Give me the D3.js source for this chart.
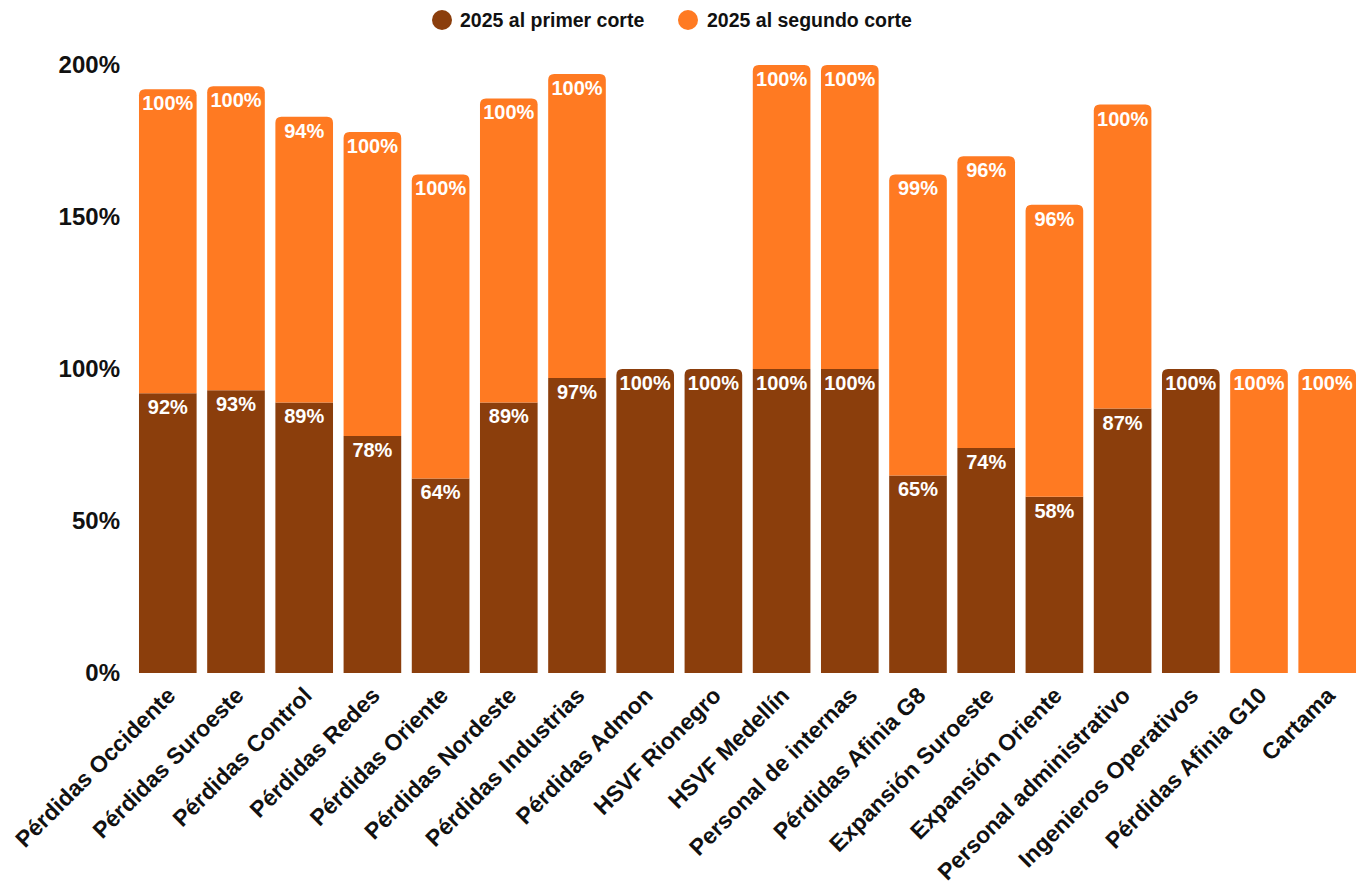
<!DOCTYPE html>
<html>
<head>
<meta charset="utf-8">
<script src="https://cdn.jsdelivr.net/npm/d3@7"></script>
<style>
  html, body { margin: 0; padding: 0; background: #ffffff; }
  svg { display: block; font-family: "Liberation Sans", Arial, Helvetica, sans-serif; }
</style>
</head>
<body>
<svg id="chart" width="1360" height="892"></svg>
<script>
// Categories and the two cut-off percentages for each one
const categories = [
  "Pérdidas Occidente", "Pérdidas Suroeste", "Pérdidas Control", "Pérdidas Redes",
  "Pérdidas Oriente", "Pérdidas Nordeste", "Pérdidas Industrias", "Pérdidas Admon",
  "HSVF Rionegro", "HSVF Medellín", "Personal de internas", "Pérdidas Afinia G8",
  "Expansión Suroeste", "Expansión Oriente", "Personal administrativo",
  "Ingenieros Operativos", "Pérdidas Afinia G10", "Cartama"
];
const primerCorte  = [92, 93, 89, 78, 64, 89, 97, 100, 100, 100, 100, 65, 74, 58, 87, 100, 0, 0];
const segundoCorte = [100, 100, 94, 100, 100, 100, 100, 0, 0, 100, 100, 99, 96, 96, 100, 0, 100, 100];
const seriesNames  = ["2025 al primer corte", "2025 al segundo corte"];
const yTicks       = [0, 50, 100, 150, 200];

const colors = ["#8B3E0C", "#FF7A22"];

const svg = d3.select("#chart");

const x = d3.scaleBand()
  .domain(categories)
  .range([133.7, 1361.3])
  .paddingInner(0.155)
  .paddingOuter(0.0775);

const y = d3.scaleLinear()
  .domain([0, 200])
  .range([673, 65]);

// Stack the two series
const rows = categories.map((c, i) => ({ cat: c, s0: primerCorte[i], s1: segundoCorte[i] }));
const stacked = d3.stack().keys(["s0", "s1"])(rows);

// Rect path with optional rounded top corners
function barPath(x0, y0, w, h, r) {
  if (h <= 0) return "";
  r = Math.min(r, h, w / 2);
  return `M${x0},${y0 + h}` +
         `V${y0 + r}` +
         `Q${x0},${y0} ${x0 + r},${y0}` +
         `H${x0 + w - r}` +
         `Q${x0 + w},${y0} ${x0 + w},${y0 + r}` +
         `V${y0 + h}Z`;
}

// Index of the top-most non-empty segment for each category
const topIndex = rows.map(d => (d.s1 > 0 ? 1 : 0));

const g = svg.append("g");
stacked.forEach((layer, li) => {
  g.append("g").attr("fill", colors[li])
    .selectAll("path")
    .data(layer.map((seg, i) => ({ seg, i })).filter(d => d.seg[1] - d.seg[0] > 0))
    .join("path")
    .attr("d", d => {
      const x0 = x(categories[d.i]);
      const yTop = y(d.seg[1]);
      const h = y(d.seg[0]) - yTop;
      const r = topIndex[d.i] === li ? 6 : 0;
      return barPath(x0, yTop, x.bandwidth(), h, r);
    });
});

// Value labels inside the top of each segment
stacked.forEach((layer, li) => {
  g.append("g")
    .selectAll("text")
    .data(layer.map((seg, i) => ({ seg, i, v: li === 0 ? primerCorte[i] : segundoCorte[i] })).filter(d => d.v > 0))
    .join("text")
    .attr("x", d => x(categories[d.i]) + x.bandwidth() / 2)
    .attr("y", d => y(d.seg[1]) + 14)
    .attr("dy", "0.35em")
    .attr("text-anchor", "middle")
    .attr("fill", "#ffffff")
    .attr("font-weight", "bold")
    .attr("font-size", 20)
    .text(d => d.v + "%");
});

// Y axis (labels only)
const yg = svg.append("g")
  .attr("transform", "translate(120,0)")
  .call(d3.axisLeft(y).tickValues(yTicks).tickFormat(d => d + "%").tickSize(0).tickPadding(0));
yg.select(".domain").remove();
yg.selectAll("text")
  .attr("font-size", 24)
  .attr("font-weight", "bold")
  .attr("fill", "#111111")
  .attr("font-family", "'Liberation Sans', Arial, sans-serif");

// X axis with rotated labels
const xg = svg.append("g")
  .attr("transform", "translate(0,673)")
  .call(d3.axisBottom(x).tickSize(0).tickPadding(0));
xg.select(".domain").remove();
xg.selectAll(".tick text")
  .attr("font-size", 23)
  .attr("font-weight", "bold")
  .attr("fill", "#111111")
  .attr("font-family", "'Liberation Sans', Arial, sans-serif")
  .attr("text-anchor", "end")
  .attr("dy", 0)
  .attr("y", 0)
  .attr("transform", "translate(9,24) rotate(-45)");

// Legend
const legend = svg.append("g");
const legendItems = [
  { name: seriesNames[0], color: colors[0], cx: 442, tx: 460 },
  { name: seriesNames[1], color: colors[1], cx: 688, tx: 707 }
];
legendItems.forEach(it => {
  legend.append("circle")
    .attr("cx", it.cx).attr("cy", 20).attr("r", 10)
    .attr("fill", it.color);
  legend.append("text")
    .attr("x", it.tx).attr("y", 20).attr("dy", "0.35em")
    .attr("font-size", 19.5)
    .attr("font-weight", "bold")
    .attr("fill", "#111111")
    .text(it.name);
});
</script>
</body>
</html>
